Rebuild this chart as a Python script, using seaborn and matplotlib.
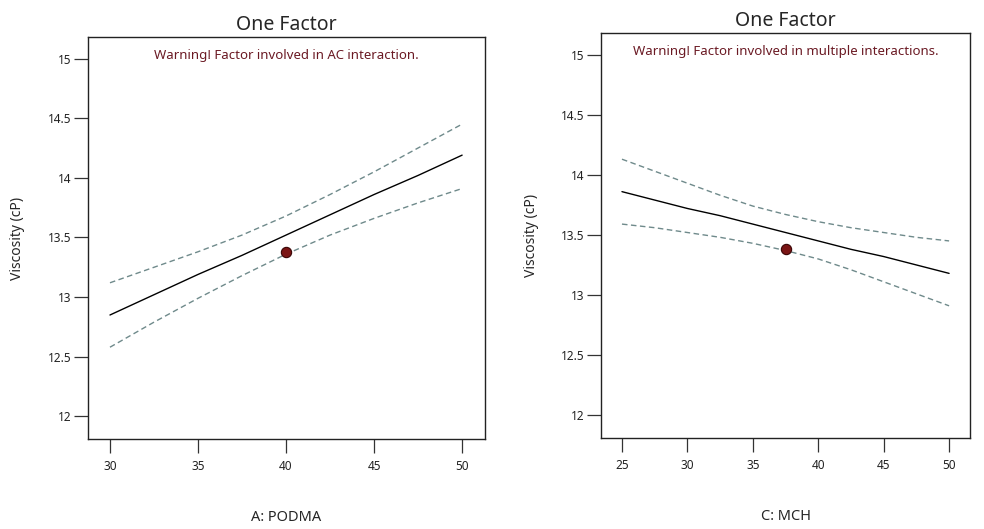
import pandas as pd
import matplotlib
matplotlib.use("Agg")
import matplotlib.pyplot as plt
import seaborn as sns

# left panel: A: PODMA
podma_x = [30, 32.5, 35, 37.5, 40, 42.5, 45, 47.5, 50]
podma_fit = [12.85, 13.02, 13.19, 13.35, 13.52, 13.69, 13.86, 14.02, 14.19]
podma_upper = [13.12, 13.25, 13.38, 13.52, 13.68, 13.86, 14.05, 14.25, 14.45]
podma_lower = [12.58, 12.79, 12.99, 13.18, 13.36, 13.52, 13.66, 13.79, 13.91]
podma_point = (40, 13.38)
podma_ticks = [30, 35, 40, 45, 50]

# right panel: C: MCH
mch_x = [25, 27.5, 30, 32.5, 35, 37.5, 40, 42.5, 45, 47.5, 50]
mch_fit = [13.86, 13.79, 13.72, 13.66, 13.59, 13.52, 13.45, 13.38, 13.32, 13.25, 13.18]
mch_upper = [14.13, 14.03, 13.93, 13.83, 13.74, 13.67, 13.61, 13.56, 13.52, 13.48, 13.45]
mch_lower = [13.59, 13.56, 13.52, 13.48, 13.43, 13.37, 13.30, 13.21, 13.11, 13.01, 12.91]
mch_point = (37.5, 13.38)
mch_ticks = [25, 30, 35, 40, 45, 50]

y_ticks = [12, 12.5, 13, 13.5, 14, 14.5, 15]

sns.set_style("ticks")
plt.rcParams["font.family"] = ["Noto Sans", "DejaVu Sans"]

fig = plt.figure(figsize=(9.84, 5.29), dpi=100)
ax1 = fig.add_axes([0.0894, 0.170, 0.4035, 0.760])
ax2 = fig.add_axes([0.6108, 0.172, 0.375, 0.7656])

panels = [
    (ax1, podma_x, podma_fit, podma_upper, podma_lower, podma_point, podma_ticks,
     (28.75, 51.3), "A: PODMA", "Warning! Factor involved in AC interaction."),
    (ax2, mch_x, mch_fit, mch_upper, mch_lower, mch_point, mch_ticks,
     (23.4, 51.6), "C: MCH", "Warning! Factor involved in multiple interactions."),
]

for ax, xs, fit, up, lo, pt, xt, xlim, xlab, warn in panels:
    df = pd.DataFrame({"x": xs, "fit": fit, "upper": up, "lower": lo})
    sns.lineplot(data=df, x="x", y="fit", ax=ax, color="black", linewidth=1.0)
    sns.lineplot(data=df, x="x", y="upper", ax=ax, color="#6f8a8b", linewidth=1.0,
                 linestyle=(0, (4, 2.5)))
    sns.lineplot(data=df, x="x", y="lower", ax=ax, color="#6f8a8b", linewidth=1.0,
                 linestyle=(0, (4, 2.5)))
    sns.scatterplot(x=[pt[0]], y=[pt[1]], ax=ax, color="#7a1414", edgecolor="#3a0505",
                    s=55, linewidth=0.8, zorder=5)
    ax.set_xlim(*xlim)
    ax.set_ylim(11.81, 15.18)
    ax.set_xticks(xt)
    ax.set_xticklabels([str(v) for v in xt])
    ax.set_yticks(y_ticks)
    ax.set_yticklabels(["12", "12.5", "13", "13.5", "14", "14.5", "15"])
    ax.tick_params(axis="both", direction="out", length=10, width=0.9, colors="#333333",
                   labelsize=8.5, labelcolor="#222222")
    ax.tick_params(axis="x", pad=5)
    ax.tick_params(axis="y", pad=2)
    for s in ax.spines.values():
        s.set_visible(True)
        s.set_linewidth(1.0)
        s.set_color("#222222")
    ax.set_xlabel(xlab, fontsize=10.5, labelpad=27)
    ax.set_ylabel("Viscosity (cP)", fontsize=10, labelpad=16)
    ax.set_title("One Factor", fontsize=14, pad=5)
    ax.text(0.5, 0.955, warn, transform=ax.transAxes, ha="center", va="center",
            fontsize=9.5, color="#6b1a24")

fig.savefig("out.png", dpi=100)
